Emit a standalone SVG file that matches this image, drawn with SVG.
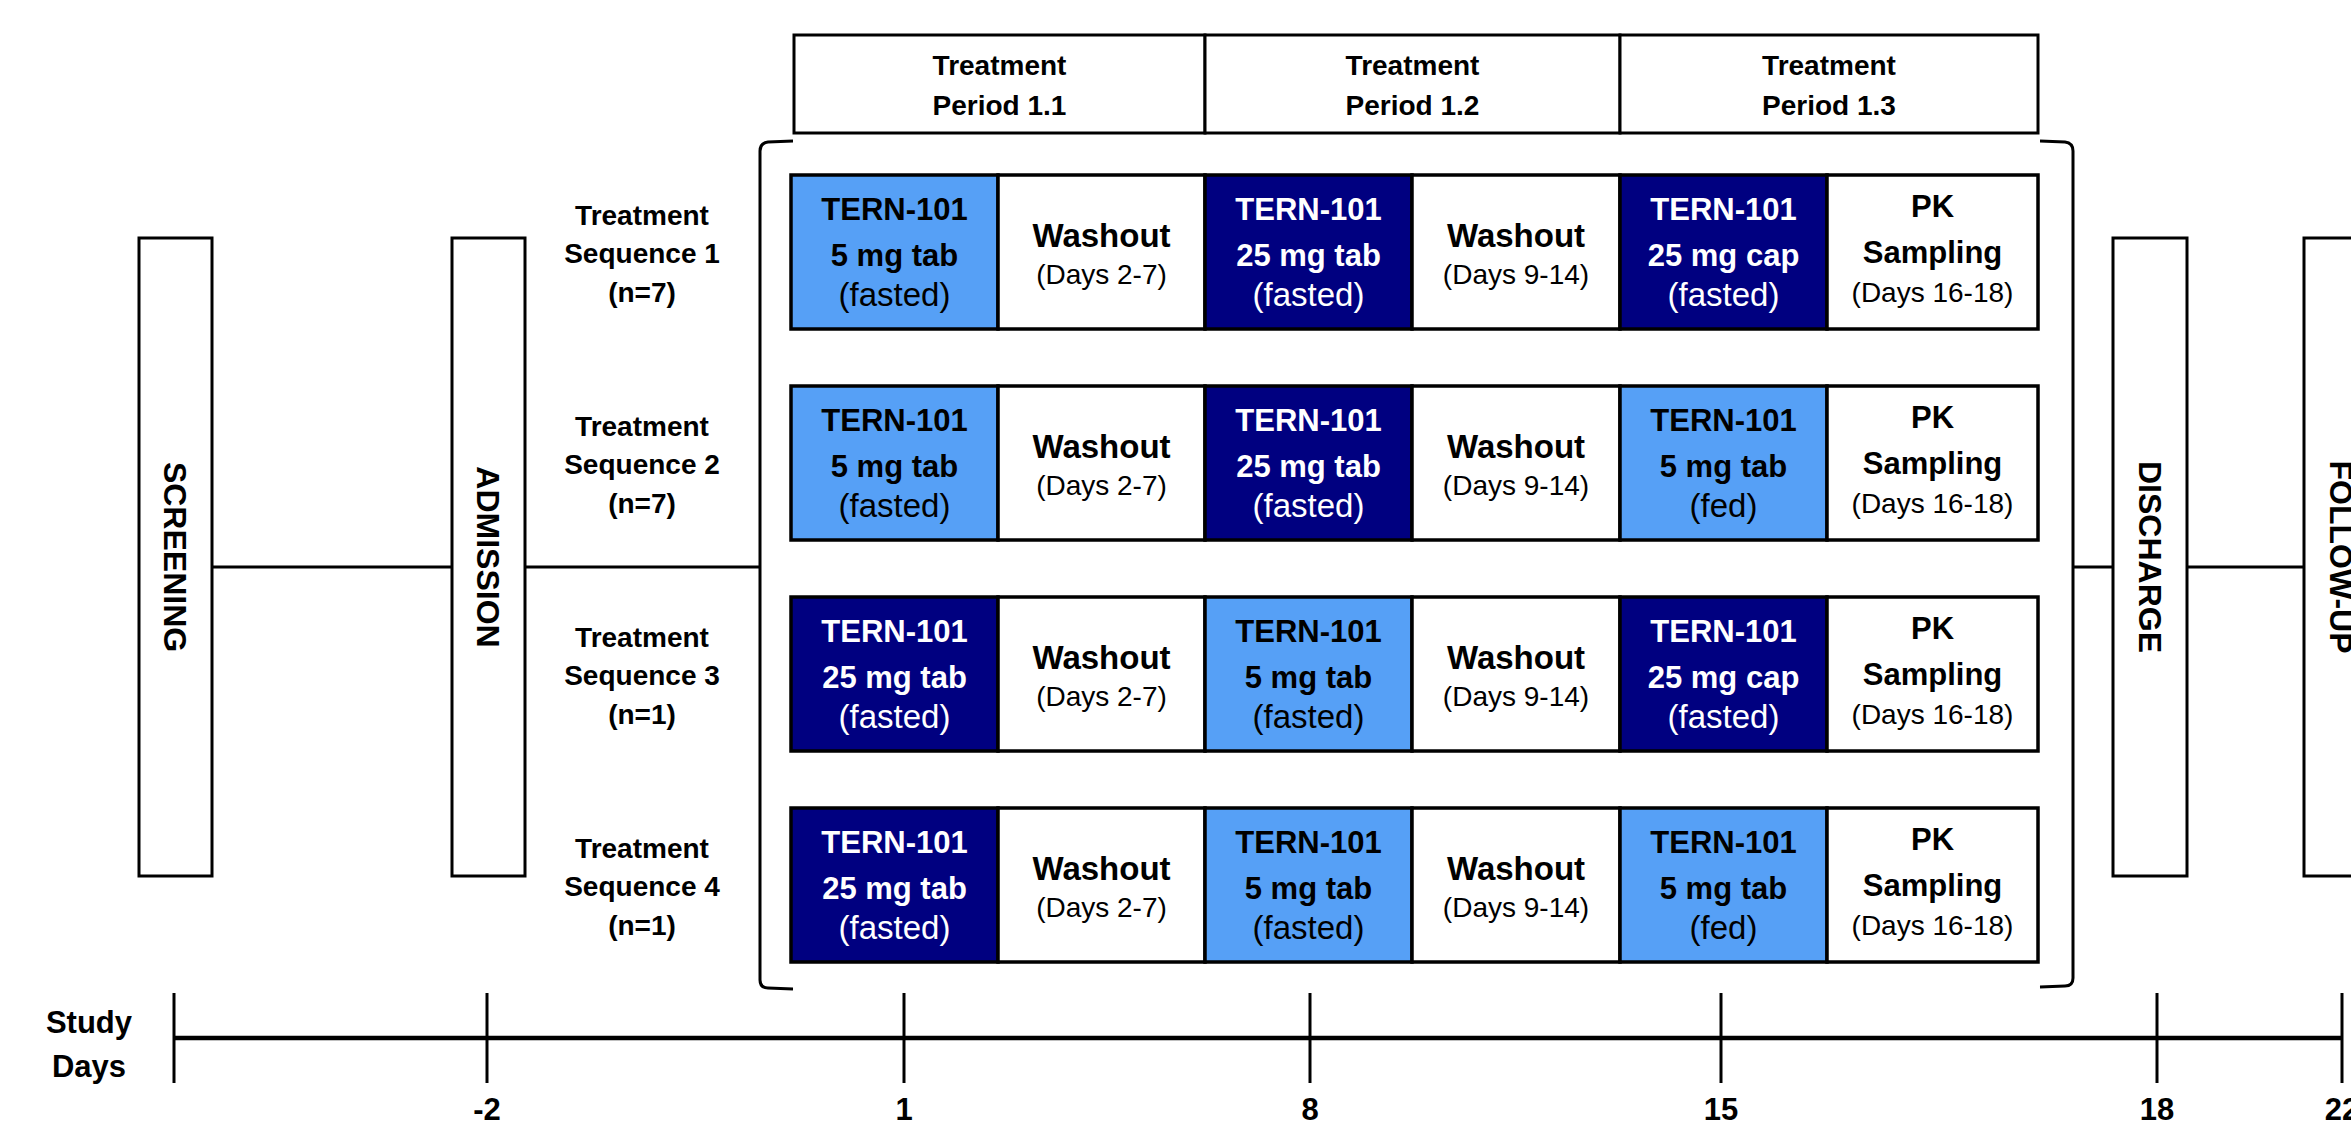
<svg xmlns="http://www.w3.org/2000/svg" width="2351" height="1125" viewBox="0 0 2351 1125">
<style>
text{font-family:"Liberation Sans",Arial,sans-serif;text-anchor:middle;fill:#000}
.b{font-weight:bold}
.box{fill:#fff;stroke:#000;stroke-width:3}
.cell{stroke:#000;stroke-width:3.5}
.lt{fill:#56A0F6}
.dk{fill:#000080}
.wh{fill:#fff}
.t1{font-size:31px;font-weight:bold}
.t2{font-size:33px}
.t3{font-size:28px}
.tw{font-size:33px;font-weight:bold}
.hd{font-size:28px;font-weight:bold}
.rl{font-size:28px;font-weight:bold}
.rot{font-size:32px;font-weight:bold}
.inv{fill:#fff}
.ln{stroke:#000;stroke-width:3;fill:none}
.tl{stroke:#000;stroke-width:4.5;fill:none}
.tk{stroke:#000;stroke-width:3;fill:none}
.dl{font-size:31px;font-weight:bold}
</style>
<defs>
<g id="pk">
<text class="t1" x="0" y="42">PK</text>
<text class="t1" x="0" y="88">Sampling</text>
<text class="t3" x="0" y="127">(Days 16-18)</text>
</g>
</defs>

<!-- Phase boxes -->
<g id="screening"><rect class="box" x="139" y="238" width="73" height="638"/><text class="rot" transform="translate(175.5,557) rotate(90)" x="0" y="11.5">SCREENING</text></g>
<g id="admission"><rect class="box" x="452" y="238" width="73" height="638"/><text class="rot" transform="translate(488.5,557) rotate(90)" x="0" y="11.5">ADMISSION</text></g>
<g id="discharge"><rect class="box" x="2113" y="238" width="74" height="638"/><text class="rot" transform="translate(2150,557) rotate(90)" x="0" y="11.5">DISCHARGE</text></g>
<g id="followup"><rect class="box" x="2304" y="238" width="74" height="638"/><text class="rot" transform="translate(2341,557) rotate(90)" x="0" y="11.5">FOLLOW-UP</text></g>

<!-- Header -->
<g id="header">
<rect class="box" x="794" y="35" width="411" height="98"/>
<rect class="box" x="1205" y="35" width="415" height="98"/>
<rect class="box" x="1620" y="35" width="418" height="98"/>
<text class="hd" x="999.5" y="75">Treatment</text><text class="hd" x="999.5" y="115">Period 1.1</text>
<text class="hd" x="1412.5" y="75">Treatment</text><text class="hd" x="1412.5" y="115">Period 1.2</text>
<text class="hd" x="1829" y="75">Treatment</text><text class="hd" x="1829" y="115">Period 1.3</text>
</g>

<!-- Row labels -->
<g id="seq1-label"><text class="rl" x="642" y="225">Treatment</text><text class="rl" x="642" y="263">Sequence 1</text><text class="rl" x="642" y="302">(n=7)</text></g>
<g id="seq2-label"><text class="rl" x="642" y="436">Treatment</text><text class="rl" x="642" y="474">Sequence 2</text><text class="rl" x="642" y="513">(n=7)</text></g>
<g id="seq3-label"><text class="rl" x="642" y="647">Treatment</text><text class="rl" x="642" y="685">Sequence 3</text><text class="rl" x="642" y="724">(n=1)</text></g>
<g id="seq4-label"><text class="rl" x="642" y="858">Treatment</text><text class="rl" x="642" y="896">Sequence 4</text><text class="rl" x="642" y="935">(n=1)</text></g>

<!-- Row 1 -->
<g id="row1" transform="translate(0,175)">
<g id="r1c1"><rect class="cell lt" x="791" y="0" width="207" height="154"/><text class="t1" x="894.5" y="45">TERN-101</text><text class="t1" x="894.5" y="91">5 mg tab</text><text class="t2" x="894.5" y="131">(fasted)</text></g>
<g id="r1c2"><rect class="cell wh" x="998" y="0" width="207" height="154"/><text class="tw" x="1101.5" y="72">Washout</text><text class="t3" x="1101.5" y="109">(Days 2-7)</text></g>
<g id="r1c3"><rect class="cell dk" x="1205" y="0" width="207" height="154"/><text class="t1 inv" x="1308.5" y="45">TERN-101</text><text class="t1 inv" x="1308.5" y="91">25 mg tab</text><text class="t2 inv" x="1308.5" y="131">(fasted)</text></g>
<g id="r1c4"><rect class="cell wh" x="1412" y="0" width="208" height="154"/><text class="tw" x="1516" y="72">Washout</text><text class="t3" x="1516" y="109">(Days 9-14)</text></g>
<g id="r1c5"><rect class="cell dk" x="1620" y="0" width="207" height="154"/><text class="t1 inv" x="1723.5" y="45">TERN-101</text><text class="t1 inv" x="1723.5" y="91">25 mg cap</text><text class="t2 inv" x="1723.5" y="131">(fasted)</text></g>
<g id="r1c6"><rect class="cell wh" x="1827" y="0" width="211" height="154"/><use href="#pk" x="1932.5" y="0"/></g>
</g>

<!-- Row 2 -->
<g id="row2" transform="translate(0,386)">
<g id="r2c1"><rect class="cell lt" x="791" y="0" width="207" height="154"/><text class="t1" x="894.5" y="45">TERN-101</text><text class="t1" x="894.5" y="91">5 mg tab</text><text class="t2" x="894.5" y="131">(fasted)</text></g>
<g id="r2c2"><rect class="cell wh" x="998" y="0" width="207" height="154"/><text class="tw" x="1101.5" y="72">Washout</text><text class="t3" x="1101.5" y="109">(Days 2-7)</text></g>
<g id="r2c3"><rect class="cell dk" x="1205" y="0" width="207" height="154"/><text class="t1 inv" x="1308.5" y="45">TERN-101</text><text class="t1 inv" x="1308.5" y="91">25 mg tab</text><text class="t2 inv" x="1308.5" y="131">(fasted)</text></g>
<g id="r2c4"><rect class="cell wh" x="1412" y="0" width="208" height="154"/><text class="tw" x="1516" y="72">Washout</text><text class="t3" x="1516" y="109">(Days 9-14)</text></g>
<g id="r2c5"><rect class="cell lt" x="1620" y="0" width="207" height="154"/><text class="t1" x="1723.5" y="45">TERN-101</text><text class="t1" x="1723.5" y="91">5 mg tab</text><text class="t2" x="1723.5" y="131">(fed)</text></g>
<g id="r2c6"><rect class="cell wh" x="1827" y="0" width="211" height="154"/><use href="#pk" x="1932.5" y="0"/></g>
</g>

<!-- Row 3 -->
<g id="row3" transform="translate(0,597)">
<g id="r3c1"><rect class="cell dk" x="791" y="0" width="207" height="154"/><text class="t1 inv" x="894.5" y="45">TERN-101</text><text class="t1 inv" x="894.5" y="91">25 mg tab</text><text class="t2 inv" x="894.5" y="131">(fasted)</text></g>
<g id="r3c2"><rect class="cell wh" x="998" y="0" width="207" height="154"/><text class="tw" x="1101.5" y="72">Washout</text><text class="t3" x="1101.5" y="109">(Days 2-7)</text></g>
<g id="r3c3"><rect class="cell lt" x="1205" y="0" width="207" height="154"/><text class="t1" x="1308.5" y="45">TERN-101</text><text class="t1" x="1308.5" y="91">5 mg tab</text><text class="t2" x="1308.5" y="131">(fasted)</text></g>
<g id="r3c4"><rect class="cell wh" x="1412" y="0" width="208" height="154"/><text class="tw" x="1516" y="72">Washout</text><text class="t3" x="1516" y="109">(Days 9-14)</text></g>
<g id="r3c5"><rect class="cell dk" x="1620" y="0" width="207" height="154"/><text class="t1 inv" x="1723.5" y="45">TERN-101</text><text class="t1 inv" x="1723.5" y="91">25 mg cap</text><text class="t2 inv" x="1723.5" y="131">(fasted)</text></g>
<g id="r3c6"><rect class="cell wh" x="1827" y="0" width="211" height="154"/><use href="#pk" x="1932.5" y="0"/></g>
</g>

<!-- Row 4 -->
<g id="row4" transform="translate(0,808)">
<g id="r4c1"><rect class="cell dk" x="791" y="0" width="207" height="154"/><text class="t1 inv" x="894.5" y="45">TERN-101</text><text class="t1 inv" x="894.5" y="91">25 mg tab</text><text class="t2 inv" x="894.5" y="131">(fasted)</text></g>
<g id="r4c2"><rect class="cell wh" x="998" y="0" width="207" height="154"/><text class="tw" x="1101.5" y="72">Washout</text><text class="t3" x="1101.5" y="109">(Days 2-7)</text></g>
<g id="r4c3"><rect class="cell lt" x="1205" y="0" width="207" height="154"/><text class="t1" x="1308.5" y="45">TERN-101</text><text class="t1" x="1308.5" y="91">5 mg tab</text><text class="t2" x="1308.5" y="131">(fasted)</text></g>
<g id="r4c4"><rect class="cell wh" x="1412" y="0" width="208" height="154"/><text class="tw" x="1516" y="72">Washout</text><text class="t3" x="1516" y="109">(Days 9-14)</text></g>
<g id="r4c5"><rect class="cell lt" x="1620" y="0" width="207" height="154"/><text class="t1" x="1723.5" y="45">TERN-101</text><text class="t1" x="1723.5" y="91">5 mg tab</text><text class="t2" x="1723.5" y="131">(fed)</text></g>
<g id="r4c6"><rect class="cell wh" x="1827" y="0" width="211" height="154"/><use href="#pk" x="1932.5" y="0"/></g>
</g>

<!-- Connectors -->
<g id="connectors">
<line class="ln" x1="212" y1="567" x2="452" y2="567"/>
<line class="ln" x1="525" y1="567" x2="760" y2="567"/>
<line class="ln" x1="2073" y1="567" x2="2113" y2="567"/>
<line class="ln" x1="2187" y1="567" x2="2304" y2="567"/>
<path class="ln" d="M793 141 L768 142 Q760 143 760 151 L760 980 Q760 988 768 988 L793 989"/>
<path class="ln" d="M2040 141 L2065 142 Q2073 143 2073 151 L2073 978 Q2073 986 2065 986 L2040 987"/>
</g>

<!-- Timeline -->
<g id="timeline">
<line class="tl" x1="174" y1="1038" x2="2342" y2="1038"/>
<line class="tk" x1="174" y1="993" x2="174" y2="1083"/>
<line class="tk" x1="487" y1="993" x2="487" y2="1083"/>
<line class="tk" x1="904" y1="993" x2="904" y2="1083"/>
<line class="tk" x1="1310" y1="993" x2="1310" y2="1083"/>
<line class="tk" x1="1721" y1="993" x2="1721" y2="1083"/>
<line class="tk" x1="2157" y1="993" x2="2157" y2="1083"/>
<line class="tk" x1="2342" y1="993" x2="2342" y2="1083"/>
<text class="dl" x="89" y="1033">Study</text>
<text class="dl" x="89" y="1077">Days</text>
<text class="dl" x="487" y="1120">-2</text>
<text class="dl" x="904" y="1120">1</text>
<text class="dl" x="1310" y="1120">8</text>
<text class="dl" x="1721" y="1120">15</text>
<text class="dl" x="2157" y="1120">18</text>
<text class="dl" x="2342" y="1120">22</text>
</g>
</svg>
